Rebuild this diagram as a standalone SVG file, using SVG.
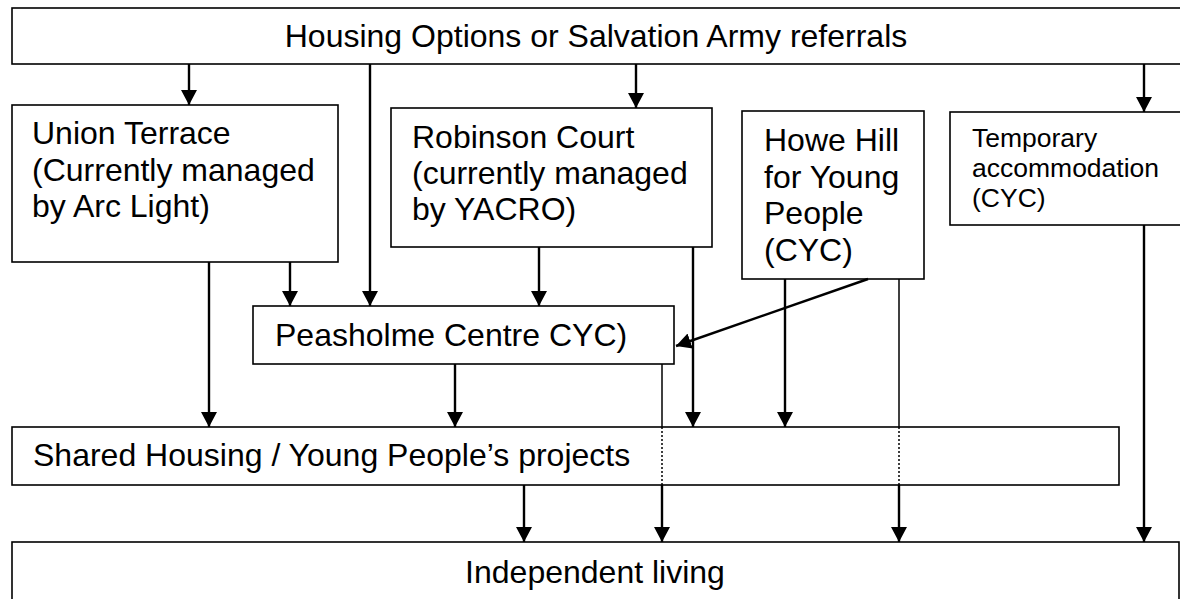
<svg xmlns="http://www.w3.org/2000/svg" width="1180" height="599" viewBox="0 0 1180 599">
<style>
.box{fill:#fff;stroke:#000;stroke-width:1.6}
.t{font-family:"Liberation Sans",Arial,sans-serif;font-size:32px;fill:#000}
.ts{font-family:"Liberation Sans",Arial,sans-serif;font-size:26.5px;fill:#000}
.a{stroke:#000;stroke-width:2.4;fill:none}
.thin{stroke:#000;stroke-width:1.5;fill:none}
.dot{stroke:#000;stroke-width:1.5;fill:none;stroke-dasharray:2 2}
</style>
<defs>
<marker id="ah" markerUnits="userSpaceOnUse" markerWidth="16" markerHeight="16" refX="15" refY="8" orient="auto">
<path d="M0,0 L15,8 L0,16 z" fill="#000"/>
</marker>
</defs>
<rect width="1180" height="599" fill="#fff"/>
<g id="top"><rect class="box" x="12" y="8" width="1180" height="56"/><text class="t" x="596" y="47" text-anchor="middle">Housing Options or Salvation Army referrals</text></g>
<g id="union"><rect class="box" x="12" y="105" width="326" height="157"/><text class="t" x="32" y="144">Union Terrace</text><text class="t" x="32" y="181">(Currently managed</text><text class="t" x="32" y="217">by Arc Light)</text></g>
<g id="robinson"><rect class="box" x="391" y="108" width="321" height="139"/><text class="t" x="412" y="148">Robinson Court</text><text class="t" x="412" y="184">(currently managed</text><text class="t" x="412" y="220">by YACRO)</text></g>
<g id="howe"><rect class="box" x="742" y="111" width="182" height="168"/><text class="t" x="764" y="151">Howe Hill</text><text class="t" x="764" y="188">for Young</text><text class="t" x="764" y="224">People</text><text class="t" x="764" y="261">(CYC)</text></g>
<g id="temporary"><rect class="box" x="950" y="112" width="240" height="113"/><text class="ts" x="972" y="147">Temporary</text><text class="ts" x="972" y="177">accommodation</text><text class="ts" x="972" y="207">(CYC)</text></g>
<g id="peasholme"><rect class="box" x="253" y="306" width="421" height="58"/><text class="t" x="275" y="346">Peasholme Centre CYC)</text></g>
<g id="shared"><rect class="box" x="12" y="427" width="1107" height="58"/><text class="t" x="33" y="466">Shared Housing / Young People’s projects</text></g>
<g id="independent"><rect class="box" x="12" y="542" width="1167" height="70"/><text class="t" x="595" y="583" text-anchor="middle">Independent living</text></g>
<g id="connectors">
<line class="a" x1="189" y1="64" x2="189" y2="105" marker-end="url(#ah)"/>
<line class="a" x1="370" y1="64" x2="370" y2="306" marker-end="url(#ah)"/>
<line class="a" x1="636" y1="64" x2="636" y2="108" marker-end="url(#ah)"/>
<line class="a" x1="1144" y1="64" x2="1144" y2="112" marker-end="url(#ah)"/>
<line class="a" x1="209" y1="262" x2="209" y2="427" marker-end="url(#ah)"/>
<line class="a" x1="290" y1="262" x2="290" y2="306" marker-end="url(#ah)"/>
<line class="a" x1="539" y1="247" x2="539" y2="306" marker-end="url(#ah)"/>
<line class="a" x1="693" y1="247" x2="693" y2="427" marker-end="url(#ah)"/>
<line class="a" x1="785" y1="279" x2="785" y2="427" marker-end="url(#ah)"/>
<line class="a" x1="868" y1="279" x2="676" y2="346" marker-end="url(#ah)"/>
<line class="a" x1="455" y1="364" x2="455" y2="427" marker-end="url(#ah)"/>
<line class="thin" x1="662" y1="364" x2="662" y2="427"/>
<line class="dot" x1="662" y1="427" x2="662" y2="485"/>
<line class="a" x1="662" y1="485" x2="662" y2="542" marker-end="url(#ah)"/>
<line class="thin" x1="899" y1="279" x2="899" y2="427"/>
<line class="dot" x1="899" y1="427" x2="899" y2="485"/>
<line class="a" x1="899" y1="485" x2="899" y2="542" marker-end="url(#ah)"/>
<line class="a" x1="524" y1="485" x2="524" y2="542" marker-end="url(#ah)"/>
<line class="a" x1="1144" y1="225" x2="1144" y2="542" marker-end="url(#ah)"/>
</g>
</svg>
